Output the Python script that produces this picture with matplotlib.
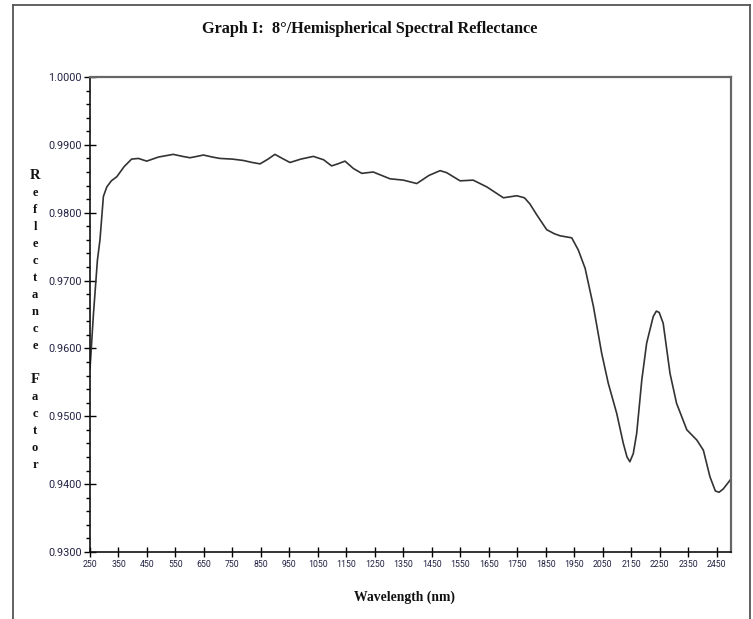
import matplotlib
matplotlib.use("Agg")
import matplotlib.pyplot as plt
from matplotlib.lines import Line2D
from matplotlib.ticker import MultipleLocator, FormatStrFormatter

# values
wavelength = [250, 262, 276, 285, 297, 309, 325, 344, 370, 396, 420, 449, 490,
              542, 575, 601, 625, 648, 680, 706, 750, 788, 820, 847, 875,
              899, 925, 952, 990, 1034, 1070, 1098, 1120, 1145, 1175, 1204,
              1244, 1303, 1350, 1397, 1440, 1479, 1502, 1549, 1595, 1643,
              1701, 1748, 1775, 1794, 1818, 1853, 1880, 1900, 1941, 1964,
              1988, 2017, 2046, 2069, 2099, 2122, 2135, 2145, 2157, 2169,
              2187, 2204, 2227, 2238, 2248, 2262, 2286, 2309, 2345, 2380,
              2403, 2426, 2445, 2458, 2473, 2497]
reflectance = [0.9570, 0.9650, 0.9730, 0.9760, 0.9824, 0.9838, 0.9847, 0.9853,
               0.9868, 0.9879, 0.9880, 0.9876, 0.9882, 0.9886, 0.9883, 0.9881,
               0.9883, 0.9885, 0.9882, 0.9880, 0.9879, 0.9877, 0.9874, 0.9872,
               0.9879, 0.9886, 0.9880, 0.9874, 0.9879, 0.9883, 0.9878, 0.9869,
               0.9872, 0.9876, 0.9865, 0.9858, 0.9860, 0.9850, 0.9848, 0.9843,
               0.9855, 0.9862, 0.9859, 0.9847, 0.9848, 0.9838, 0.9822, 0.9825,
               0.9822, 0.9813, 0.9797, 0.9775, 0.9769, 0.9766, 0.9763, 0.9745,
               0.9718, 0.9662, 0.9593, 0.9549, 0.9504, 0.9460, 0.9440, 0.9433,
               0.9445, 0.9475, 0.9554, 0.9608, 0.9647, 0.9655, 0.9653, 0.9637,
               0.9563, 0.9519, 0.9480, 0.9465, 0.9450, 0.9411, 0.9390, 0.9388,
               0.9393, 0.9406]

ylabel_letters = ["R", "e", "f", "l", "e", "c", "t", "a", "n", "c", "e", "",
                  "F", "a", "c", "t", "o", "r"]

W, H = 753, 619
fig = plt.figure(figsize=(W / 100, H / 100), dpi=100)
ax = fig.add_axes([90 / W, 1 - 552 / H, 641 / W, 475 / H])

ax.plot(wavelength, reflectance, color="#333333", lw=1.2)

ax.set_xlim(250, 2500)
ax.set_ylim(0.93, 1.0)
ax.set_xticks(range(250, 2500, 100))
ax.yaxis.set_major_locator(MultipleLocator(0.01))
ax.yaxis.set_minor_locator(MultipleLocator(0.002))
ax.yaxis.set_major_formatter(FormatStrFormatter("%.4f"))

ax.tick_params(axis="x", which="major", direction="inout", length=7, width=1,
               pad=2, labelsize=6.3, labelcolor="#222244")
ax.tick_params(axis="y", which="major", direction="inout", length=8, width=1,
               pad=2, labelsize=7.8, labelcolor="#222244")
ax.tick_params(axis="y", which="minor", direction="out", length=3, width=1)
for lab in ax.get_xticklabels() + ax.get_yticklabels():
    lab.set_family("Roboto")

for s in ["left", "bottom"]:
    ax.spines[s].set_color("#111111")
    ax.spines[s].set_linewidth(1.2)
for s in ["top", "right"]:
    ax.spines[s].set_color("#666666")
    ax.spines[s].set_linewidth(1.6)

fig.text(370 / W, 1 - 29 / H, "Graph I:  8\u00b0/Hemispherical Spectral Reflectance",
         ha="center", va="center", family="Liberation Serif", weight="bold",
         fontsize=11.7, color="#111111")
fig.text(405 / W, 1 - 597 / H, "Wavelength (nm)", ha="center", va="center",
         family="Liberation Serif", weight="bold", fontsize=9.8, color="#111111")

for i, ch in enumerate(ylabel_letters):
    if ch:
        fig.text(35 / W, 1 - (179 + 17 * i) / H, ch, ha="center", va="baseline",
                 family="Liberation Serif", weight="bold",
                 fontsize=10.5 if ch.isupper() else 9, color="#111111")

# page frame around the chart
frame = dict(color="#555555", lw=1.3, transform=fig.transFigure)
fig.add_artist(Line2D([13 / W, 13 / W], [0, 1 - 5 / H], **frame))
fig.add_artist(Line2D([13 / W, 750 / W], [1 - 5 / H, 1 - 5 / H], **frame))
fig.add_artist(Line2D([750 / W, 750 / W], [0, 1 - 5 / H], **frame))

fig.savefig("out.png", dpi=100)
